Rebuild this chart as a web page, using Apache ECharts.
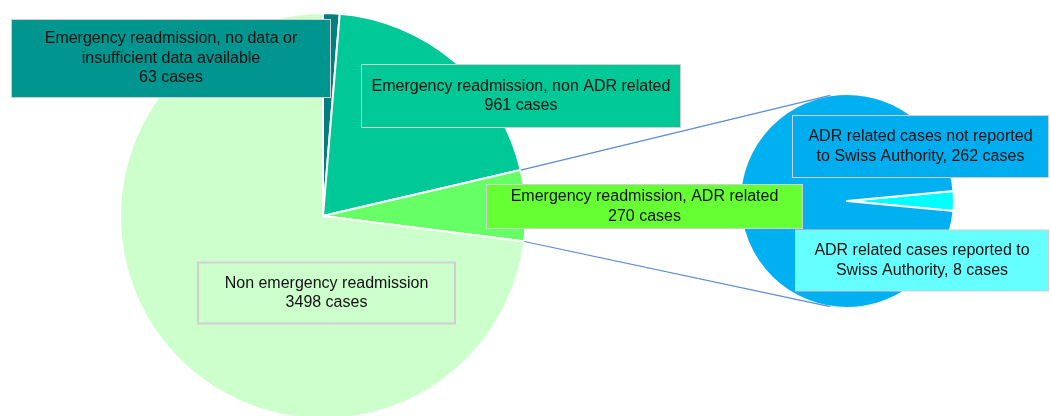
<!DOCTYPE html>
<html><head><meta charset="utf-8">
<script src="https://cdn.jsdelivr.net/npm/echarts@6/dist/echarts.min.js"></script>
<style>html,body{margin:0;padding:0;background:#fff}#c{width:1051px;height:416px}</style>
</head><body><div id="c"></div>
<script>
// ---- data ----
const mainNames = ['Emergency readmission, no data or\ninsufficient data available', 'Emergency readmission, non ADR related', 'Emergency readmission, ADR related', 'Non emergency readmission'];
const mainValues = [63, 961, 270, 3498];
const subNames = ['ADR related cases reported to\nSwiss Authority', 'ADR related cases not reported\nto Swiss Authority'];
const subValues = [8, 262];
const unitText = 'cases';

// ---- styles / layout ----
const mainColors = ['#007F7E', '#00C896', '#66FF66', '#CCFFCC'];
const mainBoxColors = ['#00968F', '#00C896', '#66FF33', 'transparent'];
const subColors = ['#00FFFF', '#00B0F0'];
const subBoxColors = ['#66FFFF', '#00AEEF'];
const mainBoxes = [[171, 58.5, 318, 77], [521, 96, 318, 62], [644.5, 206.5, 315, 43], [326.5, 293, 257, 61]];
const subBoxes = [[922, 260.5, 252, 60], [920.5, 146.5, 255, 61]];
const LH = 19.5;
const mainC = [323, 216], mainR = 203;
const subC = [847, 201], subR = 107;

function boxLabel(color, box, lines) {
  const pv = Math.max(0, (box[3] - lines * LH) / 2);
  return {
    show: true, position: 'inside', color: '#111', fontFamily: 'Liberation Sans, Arial, sans-serif',
    fontSize: 16, lineHeight: LH, align: 'center', verticalAlign: 'middle',
    backgroundColor: color, borderColor: '#CFCFCF', borderWidth: 1,
    width: box[2], padding: [pv, 0, pv, 0]
  };
}

const mainData = mainNames.map((n, i) => ({
  name: n, value: mainValues[i],
  itemStyle: { color: mainColors[i] },
  label: boxLabel(mainBoxColors[i], mainBoxes[i], n.split('\n').length + 1)
}));
const subData = subNames.map((n, i) => ({
  name: n, value: subValues[i],
  itemStyle: { color: subColors[i] },
  label: boxLabel(subBoxColors[i], subBoxes[i], n.split('\n').length)
}));

const mainTotal = mainValues.reduce((a, b) => a + b, 0);
const subTotal = subValues.reduce((a, b) => a + b, 0);
const subStart = 360 * subValues[0] / subTotal / 2;

// connector lines from the ADR slice (index 2) to the secondary pie
const before = mainValues[0] + mainValues[1];
const a1 = (90 - 360 * before / mainTotal) * Math.PI / 180;
const a2 = (90 - 360 * (before + mainValues[2]) / mainTotal) * Math.PI / 180;
const p1 = [mainC[0] + mainR * Math.cos(a1), mainC[1] - mainR * Math.sin(a1)];
const p2 = [mainC[0] + mainR * Math.cos(a2), mainC[1] - mainR * Math.sin(a2)];
const t = 99 * Math.PI / 180;
const q1 = [subC[0] + subR * Math.cos(t), subC[1] - subR * Math.sin(t)];
const q2 = [subC[0] + subR * Math.cos(t), subC[1] + subR * Math.sin(t)];

const chart = echarts.init(document.getElementById('c'), null, { renderer: 'canvas' });
chart.setOption({
  animation: false,
  backgroundColor: '#fff',
  series: [
    {
      type: 'pie', z: 3, center: mainC, radius: mainR, startAngle: 90, clockwise: true,
      avoidLabelOverlap: false, silent: true,
      itemStyle: { borderColor: '#fff', borderWidth: 2 },
      labelLine: { show: false },
      label: { formatter: p => p.name + '\n' + p.value + ' ' + unitText },
      labelLayout: p => ({ x: mainBoxes[p.dataIndex][0], y: mainBoxes[p.dataIndex][1], align: 'center', verticalAlign: 'middle' }),
      emphasis: { disabled: true },
      data: mainData
    },
    {
      type: 'pie', z: 2, center: subC, radius: subR, startAngle: subStart, clockwise: true,
      avoidLabelOverlap: false, silent: true,
      itemStyle: { borderColor: '#fff', borderWidth: 2 },
      labelLine: { show: false },
      label: { formatter: p => p.name + ', ' + p.value + ' ' + unitText },
      labelLayout: p => ({ x: subBoxes[p.dataIndex][0], y: subBoxes[p.dataIndex][1], align: 'center', verticalAlign: 'middle' }),
      emphasis: { disabled: true },
      data: subData
    }
  ],
  graphic: [
    { type: 'line', z: 10, shape: { x1: p1[0], y1: p1[1], x2: q1[0], y2: q1[1] }, style: { stroke: '#5A8CD2', lineWidth: 1.2 } },
    { type: 'line', z: 10, shape: { x1: p2[0], y1: p2[1], x2: q2[0], y2: q2[1] }, style: { stroke: '#5A8CD2', lineWidth: 1.2 } }
  ]
});
</script>
</body></html>
